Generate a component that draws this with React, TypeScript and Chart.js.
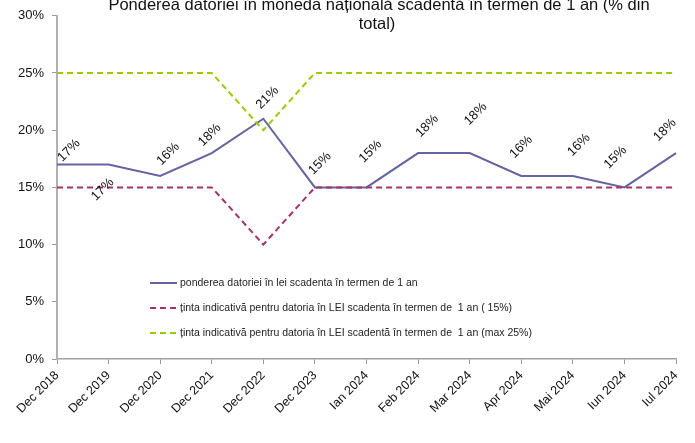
import React, { useEffect, useRef } from "react";
import { Chart, registerables } from "chart.js";

Chart.register(...registerables);

const categories = [
  "Dec 2018", "Dec 2019", "Dec 2020", "Dec 2021", "Dec 2022", "Dec 2023",
  "Ian 2024", "Feb 2024", "Mar 2024", "Apr 2024", "Mai 2024", "Iun 2024", "Iul 2024",
];
const share = [17, 17, 16, 18, 21, 15, 15, 18, 18, 16, 16, 15, 18];
const targetMin = [15, 15, 15, 15, 10, 15, 15, 15, 15, 15, 15, 15, 15];
const targetMax = [25, 25, 25, 25, 20, 25, 25, 25, 25, 25, 25, 25, 25];
const yTicks = [0, 5, 10, 15, 20, 25, 30];

const seriesNames = [
  "ponderea datoriei în lei scadenta în termen de 1 an",
  "ținta indicativă pentru datoria în LEI scadenta în termen de  1 an ( 15%)",
  "ținta indicativă pentru datoria în LEI scadentă în termen de  1 an (max 25%)",
];
const titleLines = [
  "Ponderea datoriei în moneda națională scadentă în termen de 1 an (% din",
  "total)",
];

// label nudges (styling): centre of each rotated data label relative to its point
const labelNudge: [number, number][] = [
  [12, -14], [-6, 25], [8, -22], [-2, -18], [4, -21], [5, -24], [4, -36],
  [9, -27], [6, -39], [0, -29], [6, -31], [-9, -30], [-11, -23],
];

const FONT = "Arial, 'Liberation Sans', sans-serif";

const overlayPlugin = {
  id: "overlay",
  afterDatasetsDraw(chart: any) {
    const ctx = chart.ctx;
    const meta = chart.getDatasetMeta(0);
    ctx.save();
    ctx.fillStyle = "#111";
    ctx.font = `13px ${FONT}`;
    ctx.textAlign = "center";
    ctx.textBaseline = "middle";
    meta.data.forEach((pt: any, i: number) => {
      const [dx, dy] = labelNudge[i] || [0, -25];
      ctx.save();
      ctx.translate(pt.x + dx, pt.y + dy);
      ctx.rotate(-Math.PI / 4);
      ctx.fillText(`${share[i]}%`, 0, 0);
      ctx.restore();
    });
    ctx.restore();
  },
  afterDraw(chart: any) {
    const ctx = chart.ctx;
    ctx.save();
    // title
    ctx.fillStyle = "#111";
    ctx.font = `16.5px ${FONT}`;
    ctx.textAlign = "center";
    ctx.textBaseline = "alphabetic";
    ctx.fillText(titleLines[0], 379, 10);
    ctx.fillText(titleLines[1], 377, 29);
    // legend
    const ds = chart.data.datasets;
    const lx = 150;
    const ys = [283, 308, 333];
    ds.forEach((d: any, i: number) => {
      const y = ys[i];
      ctx.strokeStyle = d.borderColor;
      ctx.lineWidth = 2;
      ctx.setLineDash(d.borderDash || []);
      ctx.beginPath();
      ctx.moveTo(lx, y);
      ctx.lineTo(lx + 27, y);
      ctx.stroke();
      ctx.setLineDash([]);
      ctx.fillStyle = "#222";
      ctx.font = `10.5px ${FONT}`;
      ctx.textAlign = "left";
      ctx.textBaseline = "middle";
      ctx.fillText(d.label, lx + 30, y);
    });
    ctx.restore();
  },
};

export default function App() {
  const ref = useRef<HTMLCanvasElement | null>(null);
  useEffect(() => {
    if (!ref.current) return;
    const chart = new Chart(ref.current, {
      type: "line",
      data: {
        labels: categories,
        datasets: [
          {
            label: seriesNames[0],
            data: share,
            borderColor: "#6464a0",
            borderWidth: 2,
            pointRadius: 0,
            tension: 0,
            order: 3,
          },
          {
            label: seriesNames[1],
            data: targetMin,
            borderColor: "#a3336a",
            borderWidth: 2,
            borderDash: [6, 4],
            pointRadius: 0,
            tension: 0,
            order: 1,
          },
          {
            label: seriesNames[2],
            data: targetMax,
            borderColor: "#99cc00",
            borderWidth: 2,
            borderDash: [6, 4],
            pointRadius: 0,
            tension: 0,
            order: 2,
          },
        ],
      },
      options: {
        animation: false,
        responsive: false,
        maintainAspectRatio: false,
        layout: { padding: { top: 14, right: 19, left: 0, bottom: 0 } },
        plugins: {
          legend: { display: false },
          title: { display: false },
          tooltip: { enabled: false },
        },
        scales: {
          x: {
            offset: false,
            grid: {
              display: true,
              drawOnChartArea: false,
              drawTicks: true,
              tickLength: 5,
              color: "#999",
            },
            border: { color: "#a0a0a0", width: 1.5 },
            ticks: {
              autoSkip: false,
              minRotation: 45,
              maxRotation: 45,
              color: "#111",
              font: { family: FONT, size: 12.5 },
              padding: 4,
            },
            afterFit(scale: any) {
              scale.height = 84;
            },
          },
          y: {
            min: 0,
            max: 30,
            afterBuildTicks(scale: any) {
              scale.ticks = yTicks.map((v) => ({ value: v }));
            },
            grid: {
              display: true,
              drawOnChartArea: false,
              drawTicks: true,
              tickLength: 5,
              color: "#999",
            },
            border: { color: "#b0b0b0", width: 2 },
            ticks: {
              color: "#111",
              font: { family: FONT, size: 13 },
              padding: 8,
              callback: (v: any) => `${v}%`,
            },
            afterFit(scale: any) {
              scale.width = 57;
            },
          },
        },
      },
      plugins: [overlayPlugin],
    });
    return () => chart.destroy();
  }, []);
  return (
    <div style={{ position: "fixed", left: 0, top: 0, width: 695, height: 443, background: "#fff" }}>
      <canvas ref={ref} width={695} height={443} style={{ width: 695, height: 443 }} />
    </div>
  );
}
